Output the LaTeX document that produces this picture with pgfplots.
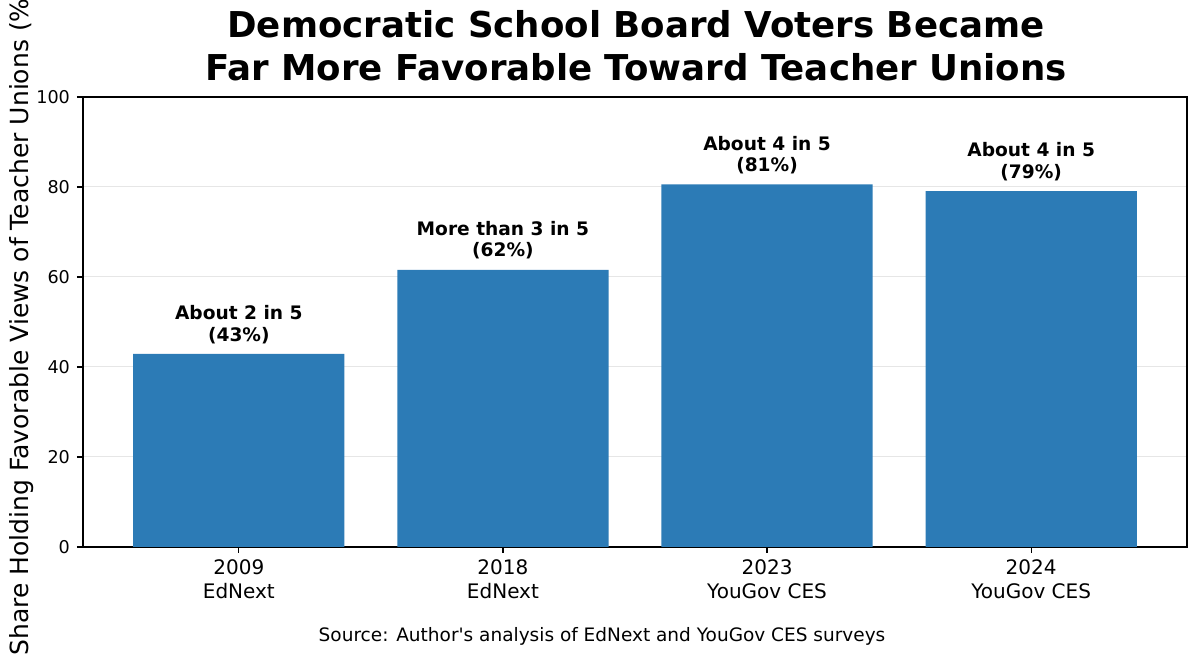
\documentclass[border=0pt]{standalone}
\usepackage{fontspec}
\setmainfont{DejaVu Sans}
\newfontfamily\srcfont{DejaVu Sans}
\usepackage{pgfplots}
\pgfplotsset{compat=1.18}
\definecolor{barblue}{HTML}{2C7BB6}
\definecolor{gridgray}{HTML}{E6E6E6}
\begin{document}
\begin{tikzpicture}
\begin{axis}[
  at={(0pt,0pt)}, anchor=south west,
  scale only axis, width=552pt, height=225pt,
  xmin=-0.59, xmax=3.59, ymin=0, ymax=100,
  ybar, bar width=0.8,
  xtick={0,1,2,3},
  xticklabels={{2009\\EdNext},{2018\\EdNext},{2023\\YouGov CES},{2024\\YouGov CES}},
  ytick={0,20,40,60,80,100},
  /pgf/number format/assume math mode=true,
  x tick label style={font=\fontsize{10pt}{11.6pt}\selectfont, align=center},
  y tick label style={font=\fontsize{8.8pt}{10pt}\selectfont},
  tick align=outside, tick pos=left,
  major tick length=3pt,
  tick style={black, line width=0.6pt},
  axis line style={black, line width=0.6pt},
  ymajorgrids, grid style={gridgray, line width=0.5pt},
  point meta=explicit symbolic,
  nodes near coords,
  every node near coord/.append style={align=center, font=\fontsize{9.3pt}{10.6pt}\selectfont\bfseries, anchor=south, inner sep=0pt, yshift=5pt},
]
\addplot[fill=barblue, draw=none] coordinates {
  (0,42.9) [{About 2 in 5\\(43\%)}]
  (1,61.6) [{More than 3 in 5\\(62\%)}]
  (2,80.6) [{About 4 in 5\\(81\%)}]
  (3,79.1) [{About 4 in 5\\(79\%)}]
};
\end{axis}
\node[rotate=90, font=\fontsize{12.5pt}{14pt}\selectfont] at (-30.5pt,112.5pt) {Share Holding Favorable Views of Teacher Unions (\%)};
\node[font=\fontsize{9.25pt}{10.5pt}\srcfont] at (259.5pt,-44.5pt) {Source: Author's analysis of EdNext and YouGov CES surveys};
\node[font=\fontsize{17.8pt}{21pt}\selectfont\bfseries, anchor=base] at (276.5pt,254.5pt) {Democratic School Board Voters Became};
\node[font=\fontsize{17.8pt}{21pt}\selectfont\bfseries, anchor=base] at (276.5pt,233pt) {Far More Favorable Toward Teacher Unions};
\pgfresetboundingbox
\path[use as bounding box] (-41.5pt,-55pt) rectangle (558.5pt,273.5pt);
\end{tikzpicture}
\end{document}
